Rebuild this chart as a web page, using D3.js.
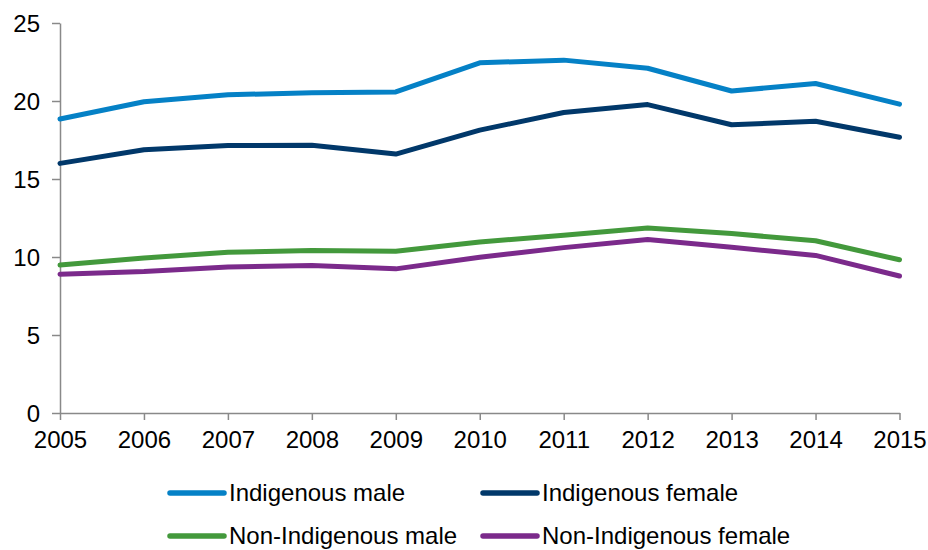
<!DOCTYPE html>
<html>
<head>
<meta charset="utf-8">
<script src="https://cdn.jsdelivr.net/npm/d3@7"></script>
<style>
  html, body { margin: 0; padding: 0; background: #fff; }
  svg text { font-family: "Liberation Sans", Arial, sans-serif; fill: #000; }
</style>
</head>
<body>
<svg id="chart" width="928" height="550"></svg>
<script>
const years = [2005, 2006, 2007, 2008, 2009, 2010, 2011, 2012, 2013, 2014, 2015];
const indigenousMale = [18.85, 19.95, 20.4, 20.53, 20.58, 22.45, 22.62, 22.1, 20.64, 21.12, 19.8];
const indigenousFemale = [16.0, 16.88, 17.14, 17.16, 16.6, 18.13, 19.26, 19.77, 18.48, 18.7, 17.68];
const nonIndigenousMale = [9.48, 9.93, 10.3, 10.42, 10.37, 10.96, 11.4, 11.86, 11.5, 11.04, 9.82];
const nonIndigenousFemale = [8.9, 9.07, 9.36, 9.45, 9.24, 9.98, 10.6, 11.12, 10.62, 10.1, 8.78];
const yTicks = [0, 5, 10, 15, 20, 25];
const seriesNames = ["Indigenous male", "Indigenous female", "Non-Indigenous male", "Non-Indigenous female"];
const seriesValues = [indigenousMale, indigenousFemale, nonIndigenousMale, nonIndigenousFemale];
const seriesColors = ["#0581c6", "#01386a", "#43993c", "#7b2a8b"];

const svg = d3.select("#chart");
const x = d3.scaleLinear().domain([2005, 2015]).range([60, 899.5]);
const y = d3.scaleLinear().domain([0, 25]).range([413, 23]);

const axisColor = "#898989";

// Y axis
const yAxis = d3.axisLeft(y).tickValues(yTicks).tickSizeInner(8).tickSizeOuter(0).tickPadding(12);
const gy = svg.append("g").attr("transform", "translate(60,0)").call(yAxis);
gy.select(".domain").attr("stroke", axisColor).attr("stroke-width", 1.5);
gy.selectAll(".tick line").attr("stroke", axisColor).attr("stroke-width", 1.5);
gy.selectAll(".tick text").attr("font-size", 24).attr("font-family", "Liberation Sans, Arial, sans-serif")
  .attr("fill", "#000").attr("dy", "0.34em");

// X axis
const xAxis = d3.axisBottom(x).tickValues(years).tickFormat(d3.format("d"))
  .tickSizeInner(7).tickSizeOuter(0).tickPadding(8);
const gx = svg.append("g").attr("transform", `translate(0,${y(0)})`).call(xAxis);
gx.select(".domain").attr("stroke", axisColor).attr("stroke-width", 1.5);
gx.selectAll(".tick line").attr("stroke", axisColor).attr("stroke-width", 1.5);
gx.selectAll(".tick text").attr("font-size", 24).attr("font-family", "Liberation Sans, Arial, sans-serif")
  .attr("fill", "#000").attr("dy", "0.82em");

// Lines
const line = d3.line().x((d, i) => x(years[i])).y(d => y(d));
seriesValues.forEach((vals, i) => {
  svg.append("path").datum(vals)
    .attr("d", line)
    .attr("fill", "none")
    .attr("stroke", seriesColors[i])
    .attr("stroke-width", 5)
    .attr("stroke-linejoin", "round")
    .attr("stroke-linecap", "round");
});

// Legend
const legendPos = [[168, 493], [481, 493], [168, 536], [481, 536]];
seriesNames.forEach((name, i) => {
  const [lx, ly] = legendPos[i];
  svg.append("line").attr("x1", lx + 2).attr("x2", lx + 56).attr("y1", ly).attr("y2", ly)
    .attr("stroke", seriesColors[i]).attr("stroke-width", 5.5).attr("stroke-linecap", "round");
  svg.append("text")
    .attr("x", lx + 61).attr("y", ly).attr("dy", "0.35em")
    .attr("font-size", 24).text(name);
});
</script>
</body>
</html>
